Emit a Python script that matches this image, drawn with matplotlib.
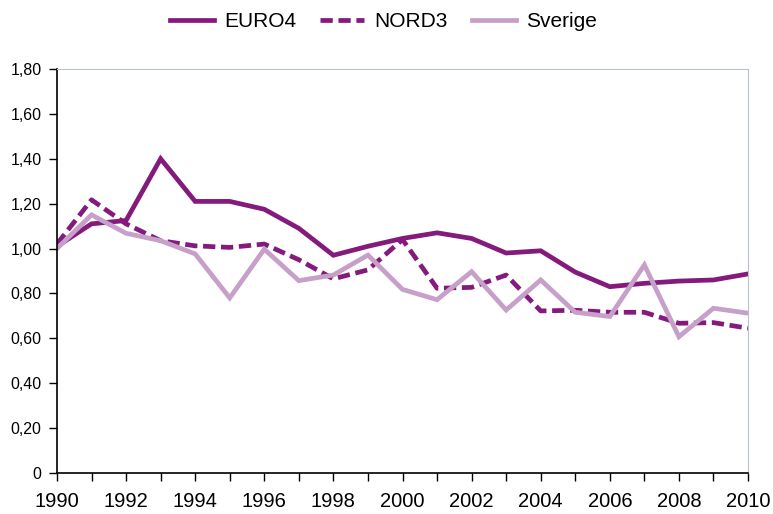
import matplotlib
matplotlib.use("Agg")
from matplotlib import pyplot as plt
from matplotlib.ticker import FuncFormatter

years = list(range(1990, 2011))
euro4 = [1.01, 1.11, 1.125, 1.40, 1.21, 1.21, 1.175, 1.09, 0.97, 1.01, 1.045,
         1.07, 1.045, 0.98, 0.99, 0.895, 0.83, 0.845, 0.855, 0.86, 0.887]
nord3 = [1.02, 1.217, 1.11, 1.035, 1.012, 1.005, 1.02, 0.95, 0.865, 0.905, 1.04,
         0.823, 0.827, 0.882, 0.722, 0.725, 0.716, 0.716, 0.667, 0.67, 0.645]
sverige = [1.00, 1.15, 1.068, 1.035, 0.976, 0.78, 0.997, 0.857, 0.882, 0.971, 0.818,
           0.772, 0.897, 0.726, 0.86, 0.716, 0.697, 0.927, 0.607, 0.734, 0.712]
yticks = [0, 0.2, 0.4, 0.6, 0.8, 1.0, 1.2, 1.4, 1.6, 1.8]

dark = "#831a7c"
light = "#c6a0c9"

plt.rcParams['font.family'] = ['Liberation Sans', 'DejaVu Sans']

fig = plt.figure(figsize=(7.73, 5.14), dpi=100)
ax = fig.add_axes([0.0737, 0.0798, 0.894, 0.786])

lw = 3.4
ax.plot(years, euro4, color=dark, lw=lw, label="EURO4", solid_joinstyle="miter")
ax.plot(years, nord3, color=dark, lw=lw, ls=(0, (2.6, 1.2)), label="NORD3")
ax.plot(years, sverige, color=light, lw=lw, label="Sverige", solid_joinstyle="miter")

ax.set_xlim(1990, 2010)
ax.set_ylim(0, 1.8)
ax.set_yticks(yticks)
ax.yaxis.set_major_formatter(FuncFormatter(lambda v, p: "0" if v == 0 else f"{v:.2f}".replace(".", ",")))
ax.set_xticks(years, minor=True)
ax.set_xticks(years[::2])
ax.tick_params(axis="y", direction="out", length=6, width=1, labelsize=11.5, pad=5)
ax.tick_params(axis="x", which="both", direction="out", length=6, width=1, labelsize=14.5, pad=8)

for s in ["top", "right"]:
    ax.spines[s].set_color("#b8c4cc")
for s in ["left", "bottom"]:
    ax.spines[s].set_color("black")
    ax.spines[s].set_linewidth(1.2)

fig.legend(loc="center", bbox_to_anchor=(0.496, 1 - 21.7 / 514), ncol=3, frameon=False,
           fontsize=15, handlelength=2.1, columnspacing=1.15, handletextpad=0.5,
           borderaxespad=0, borderpad=0)

fig.savefig("out.png", dpi=100)
